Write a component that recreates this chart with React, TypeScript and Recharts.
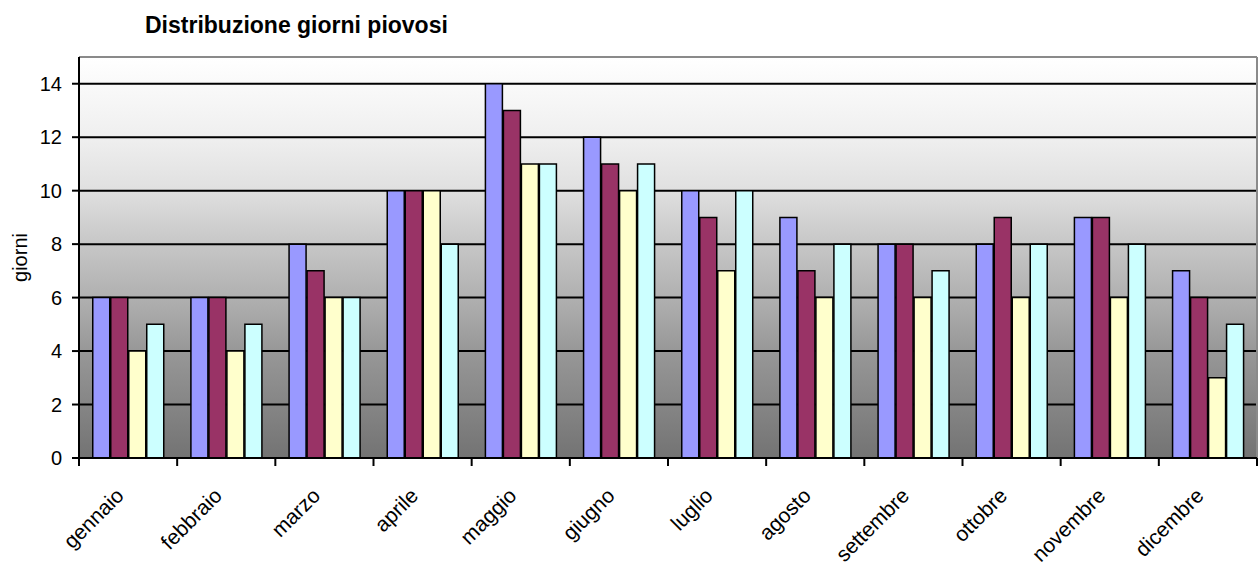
import React from 'react'
import { BarChart, Bar, XAxis, YAxis, CartesianGrid } from 'recharts'

const months = [
  'gennaio', 'febbraio', 'marzo', 'aprile', 'maggio', 'giugno',
  'luglio', 'agosto', 'settembre', 'ottobre', 'novembre', 'dicembre',
]
const serie1 = [6, 6, 8, 10, 14, 12, 10, 9, 8, 8, 9, 7]
const serie2 = [6, 6, 7, 10, 13, 11, 9, 7, 8, 9, 9, 6]
const serie3 = [4, 4, 6, 10, 11, 10, 7, 6, 6, 6, 6, 3]
const serie4 = [5, 5, 6, 8, 11, 11, 10, 8, 7, 8, 8, 5]
const yTicks = [0, 2, 4, 6, 8, 10, 12, 14]

const COLORS = ['#9999FF', '#993366', '#FFFFCC', '#CCFFFF']
const FONT = '"Liberation Sans", Arial, Helvetica, sans-serif'

const data = months.map((m, i) => ({
  month: m,
  s1: serie1[i],
  s2: serie2[i],
  s3: serie3[i],
  s4: serie4[i],
}))

// month label, rotated, plus the tick marks between the months
function MonthTick(props: any) {
  const { x, y, payload, index } = props
  const half = payload.offset || 0
  const ax = x - 3
  const ay = y + 39
  return (
    <g>
      <line x1={x - half} x2={x - half} y1={y} y2={y + 8} stroke="#000" strokeWidth={2} />
      {index === months.length - 1 && (
        <line x1={x + half} x2={x + half} y1={y} y2={y + 8} stroke="#000" strokeWidth={2} />
      )}
      <text
        x={ax}
        y={ay}
        transform={`rotate(-45, ${ax}, ${ay})`}
        textAnchor="end"
        fill="#000"
        fontSize={21}
        fontFamily={FONT}
      >
        {payload.value}
      </text>
    </g>
  )
}

function YLabel(props: any) {
  const { viewBox } = props
  const cy = viewBox.y + viewBox.height / 2
  const cx = 27
  return (
    <text
      x={cx}
      y={cy}
      transform={`rotate(-90, ${cx}, ${cy})`}
      textAnchor="middle"
      fill="#000"
      fontSize={20}
      fontFamily={FONT}
    >
      giorni
    </text>
  )
}

export default function App() {
  return (
    <div style={{ position: 'absolute', left: 0, top: 0, width: 1260, height: 566, background: '#fff' }}>
      <div
        style={{
          position: 'absolute',
          left: 145,
          top: 14,
          fontFamily: FONT,
          fontWeight: 'bold',
          fontSize: 23,
          lineHeight: '23px',
          color: '#000',
          whiteSpace: 'nowrap',
        }}
      >
        Distribuzione giorni piovosi
      </div>
      <BarChart
        width={1260}
        height={566}
        data={data}
        margin={{ top: 57, right: 3, bottom: 0, left: 0 }}
        barCategoryGap="14%"
        barGap={1}
      >
        <defs>
          <linearGradient id="bg" x1="0" y1="0" x2="0" y2="1">
            <stop offset="0%" stopColor="#ffffff" />
            <stop offset="20%" stopColor="#efefef" />
            <stop offset="33%" stopColor="#e0e0e0" />
            <stop offset="47%" stopColor="#c6c6c6" />
            <stop offset="60%" stopColor="#b0b0b0" />
            <stop offset="73%" stopColor="#989898" />
            <stop offset="87%" stopColor="#858585" />
            <stop offset="100%" stopColor="#737373" />
          </linearGradient>
        </defs>
        <CartesianGrid
          vertical={false}
          stroke="#000"
          strokeWidth={2}
          fill="url(#bg)"
          fillOpacity={1}
        />
        {/* grey frame on top and right of the plot area */}
        <CartesianGrid
          stroke="#8a8a8a"
          strokeWidth={2}
          horizontalCoordinatesGenerator={({ offset }: any) => [offset.top]}
          verticalCoordinatesGenerator={({ offset }: any) => [offset.left + offset.width]}
        />
        <XAxis
          dataKey="month"
          height={108}
          interval={0}
          tickLine={false}
          tickSize={0}
          tickMargin={0}
          axisLine={{ stroke: '#000', strokeWidth: 2 }}
          tick={<MonthTick />}
        />
        <YAxis
          domain={[0, 15]}
          ticks={yTicks}
          width={79}
          interval={0}
          tickSize={7}
          tickMargin={10}
          tickLine={{ stroke: '#000', strokeWidth: 2 }}
          axisLine={{ stroke: '#000', strokeWidth: 2 }}
          tick={{ fill: '#000', fontSize: 20, fontFamily: FONT }}
          label={<YLabel />}
        />
        <Bar dataKey="s1" fill={COLORS[0]} stroke="#000" strokeWidth={1.5} isAnimationActive={false} />
        <Bar dataKey="s2" fill={COLORS[1]} stroke="#000" strokeWidth={1.5} isAnimationActive={false} />
        <Bar dataKey="s3" fill={COLORS[2]} stroke="#000" strokeWidth={1.5} isAnimationActive={false} />
        <Bar dataKey="s4" fill={COLORS[3]} stroke="#000" strokeWidth={1.5} isAnimationActive={false} />
      </BarChart>
    </div>
  )
}
